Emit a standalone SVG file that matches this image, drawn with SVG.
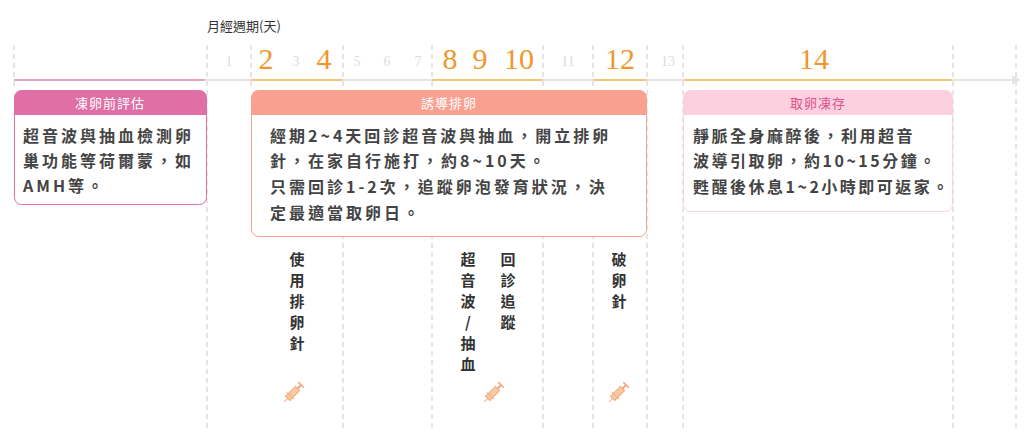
<svg xmlns="http://www.w3.org/2000/svg" width="1027" height="446" viewBox="0 0 1027 446">
<style>
.v{stroke:#ccc;stroke-width:1;stroke-dasharray:5,4}
.d{font-family:"Liberation Serif",serif;fill:#ddd;font-size:14px;text-anchor:middle}
.o{font-family:"Liberation Serif",serif;fill:#f0962a;font-size:30px;text-anchor:middle}
.h{font-family:"Noto Sans CJK TC",sans-serif;font-size:13px;text-anchor:middle;letter-spacing:1px}
.b{font-family:"Noto Sans CJK TC",sans-serif;font-size:16px;font-weight:bold;fill:#444;letter-spacing:3px}
.vt{font-family:"Noto Sans CJK TC",sans-serif;font-size:15px;font-weight:bold;fill:#333;text-anchor:middle}
</style>
<defs>
<g id="syr" transform="rotate(-45)">
<rect x="-9" y="-3" width="14" height="6" fill="#f8caa0" stroke="#f0a880" stroke-width="1"/>
<line x1="5" y1="0" x2="10" y2="0" stroke="#f0a880" stroke-width="2"/>
<line x1="10" y1="-4" x2="10" y2="4" stroke="#f0a880" stroke-width="1.5"/>
<line x1="-9" y1="0" x2="-14" y2="0" stroke="#f0b090" stroke-width="1"/>
<line x1="-5" y1="-5" x2="-5" y2="5" stroke="#f0a880" stroke-width="1"/>
</g>
</defs>
<rect width="1027" height="446" fill="#fff"/>
<g id="grid">
<line class="v" x1="14" y1="45" x2="14" y2="90"/>
<line class="v" x1="207" y1="45" x2="207" y2="430"/>
<line class="v" x1="251" y1="45" x2="251" y2="90"/>
<line class="v" x1="343" y1="45" x2="343" y2="430"/>
<line class="v" x1="432" y1="45" x2="432" y2="430"/>
<line class="v" x1="543" y1="45" x2="543" y2="430"/>
<line class="v" x1="593" y1="45" x2="593" y2="430"/>
<line class="v" x1="647" y1="45" x2="647" y2="430"/>
<line class="v" x1="683" y1="45" x2="683" y2="430"/>
<line class="v" x1="953" y1="45" x2="953" y2="430"/>
<line class="v" x1="1016" y1="45" x2="1016" y2="430"/>
</g>
<text x="207" y="31" font-family="Noto Sans CJK TC,sans-serif" font-size="13" fill="#333">月經週期(天)</text>
<g id="days">
<text class="d" x="229" y="66">1</text>
<text class="o" x="266" y="69">2</text>
<text class="d" x="296" y="66">3</text>
<text class="o" x="324" y="69">4</text>
<text class="d" x="357" y="66">5</text>
<text class="d" x="387" y="66">6</text>
<text class="d" x="418" y="66">7</text>
<text class="o" x="450" y="69">8</text>
<text class="o" x="480" y="69">9</text>
<text class="o" x="519" y="69">10</text>
<text class="d" x="568" y="66">11</text>
<text class="o" x="620" y="69">12</text>
<text class="d" x="668" y="66">13</text>
<text class="o" x="814" y="69">14</text>
</g>
<g id="connectors">
<line x1="14" y1="80" x2="1012" y2="80" stroke="#e5e5e5" stroke-width="2"/>
<polygon points="1012,75 1021,80 1012,85" fill="#e5e5e5"/>
<line x1="14" y1="80" x2="205" y2="80" stroke="#e8a0c4" stroke-width="2"/>
<line x1="251" y1="80" x2="342" y2="80" stroke="#f3c67a" stroke-width="2"/>
<line x1="432" y1="80" x2="542" y2="80" stroke="#f3c67a" stroke-width="2"/>
<line x1="594" y1="80" x2="647" y2="80" stroke="#f3c67a" stroke-width="2"/>
<line x1="684" y1="80" x2="952" y2="80" stroke="#f3c67a" stroke-width="2"/>
</g>
<g id="n1">
<rect x="14.5" y="90.5" width="192" height="114" rx="7" fill="#fff" stroke="#e06fa6"/>
<path d="M14.5,115 V97.5 a7,7 0 0 1 7,-7 H199.5 a7,7 0 0 1 7,7 V115 Z" fill="#e06fa6"/>
<text class="h" x="110" y="108" fill="#fff">凍卵前評估</text>
<text class="b" x="23" y="142">超音波與抽血檢測卵</text>
<text class="b" x="23" y="167">巢功能等荷爾蒙，如</text>
<text class="b" x="23" y="192">AMH等。</text>
</g>
<g id="n2">
<rect x="251.5" y="90.5" width="395" height="146" rx="7" fill="#fff" stroke="#f9a090"/>
<path d="M251.5,115 V97.5 a7,7 0 0 1 7,-7 H639.5 a7,7 0 0 1 7,7 V115 Z" fill="#f9a090"/>
<text class="h" x="449" y="108" fill="#fff">誘導排卵</text>
<text class="b" x="270" y="142">經期2~4天回診超音波與抽血，開立排卵</text>
<text class="b" x="270" y="167">針，在家自行施打，約8~10天。</text>
<text class="b" x="270" y="193">只需回診1-2次，追蹤卵泡發育狀況，決</text>
<text class="b" x="270" y="219">定最適當取卵日。</text>
</g>
<g id="n3">
<rect x="683.5" y="90.5" width="269" height="121" rx="7" fill="#fff" stroke="#fdd0e0"/>
<path d="M683.5,115 V97.5 a7,7 0 0 1 7,-7 H945.5 a7,7 0 0 1 7,7 V115 Z" fill="#fdd0e0"/>
<text class="h" x="818" y="108" fill="#e0508a">取卵凍存</text>
<text class="b" x="693" y="142" style="letter-spacing:2.5px">靜脈全身麻醉後，利用超音</text>
<text class="b" x="693" y="167" style="letter-spacing:2.5px">波導引取卵，約10~15分鐘。</text>
<text class="b" x="693" y="193" style="letter-spacing:2.5px">甦醒後休息1~2小時即可返家。</text>
</g>
<g id="labels">
<text class="vt" x="297" y="265">使</text><text class="vt" x="297" y="286">用</text><text class="vt" x="297" y="307">排</text><text class="vt" x="297" y="328">卵</text><text class="vt" x="297" y="349">針</text>
<text class="vt" x="468" y="265">超</text><text class="vt" x="468" y="286">音</text><text class="vt" x="468" y="307">波</text><text class="vt" x="468" y="328">/</text><text class="vt" x="468" y="349">抽</text><text class="vt" x="468" y="370">血</text>
<text class="vt" x="508" y="265">回</text><text class="vt" x="508" y="286">診</text><text class="vt" x="508" y="307">追</text><text class="vt" x="508" y="328">蹤</text>
<text class="vt" x="619" y="265">破</text><text class="vt" x="619" y="286">卵</text><text class="vt" x="619" y="307">針</text>
</g>
<g id="icons">
<use href="#syr" x="294" y="392"/>
<use href="#syr" x="494" y="392"/>
<use href="#syr" x="619" y="392"/>
</g>
</svg>
